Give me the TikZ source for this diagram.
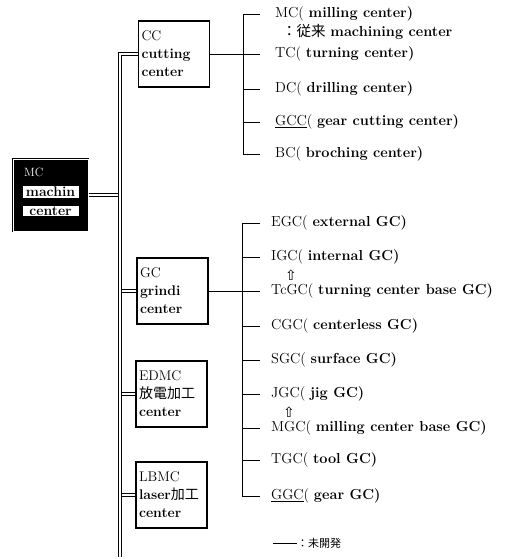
\documentclass[tikz,border=0pt]{standalone}
\usepackage{fontspec}
\newfontfamily\jpfont{Noto Sans CJK JP}
\newfontfamily\arrfont{DejaVu Sans}
\usetikzlibrary{positioning,calc}
\tikzset{
  ctrbox/.style={draw=black, line width=1.1pt, minimum width=71pt, minimum height=66pt,
    text width=65pt, align=left, inner sep=2pt, font=\fontsize{14}{18}\selectfont},
  mcbox/.style={draw=black, fill=black, line width=1pt, double=white, double distance=0.8pt,
    minimum width=75pt, minimum height=72pt},
  mclab/.style={fill=white, text=black, font=\bfseries\fontsize{14}{14}\selectfont,
    minimum width=56pt, inner sep=1pt},
  trunk/.style={draw=black, double=white, double distance=2pt, line width=0.9pt},
  link/.style={black, line width=0.9pt},
  item/.style={anchor=west, inner sep=0pt, font=\fontsize{14.5}{15}\selectfont},
  uparr/.style={inner sep=0pt, font=\arrfont\fontsize{14}{14}\selectfont},
}
\begin{document}
\begin{tikzpicture}[x=1pt,y=-1pt]
  \useasboundingbox (0,0) rectangle (522,559);
  % machining center block (left)
  \node[mcbox] (mc) at (50.5,195) {};
  \node[text=white, inner sep=0pt, anchor=west, font=\fontsize{12}{13}\selectfont] (mcab) at (24,172) {MC};
  \node[mclab] (mcw1) at (50.5,192) {machin};
  \node[mclab] (mcw2) at (50.5,211) {center};

  % center boxes on the trunk
  \coordinate (tbot) at (120,557);
  \node[ctrbox] (cc) at (174,54) {CC\\\textbf{cutting}\\\textbf{center}};
  \node[ctrbox] (gc) at (172.5,291) {GC\\\textbf{grindi}\\\textbf{center}};
  \node[ctrbox] (ed) at (171.5,394) {EDMC\\{\jpfont 放電加工}\\\textbf{center}};
  \node[ctrbox] (lb) at (171.5,495) {LBMC\\\textbf{laser}{\jpfont 加工}\\\textbf{center}};

  \draw[trunk] (cc.west) -| (tbot);
  \draw[trunk, shorten >=1.9pt] (mc.east) -- (mc.east -| tbot);
  \foreach \b in {gc,ed,lb}{\draw[trunk, shorten >=1.9pt] (\b.west) -- (\b.west -| tbot);}

  % cutting center family
  \coordinate (cbr) at (243,0);
  \coordinate (tend) at (260,0);
  \foreach \i/\yy/\ab/\lab in {0/14/MC(/milling center, 1/54/TC(/turning center,
      2/89/DC(/drilling center, 3/122/\underline{GCC}(/gear cutting center,
      4/154/BC(/broching center}{
    \node[item] (c\i) at (275,\yy) {\ab\ \textbf{\lab)}};
  }
  \node[item] (c0b) at (282,32) {{\jpfont ：従来} \textbf{machining center}};
  \draw[link] (c0.west -| tend) -| (c4.west -| cbr) -- (c4.west -| tend);
  \foreach \i in {1,2,3}{\draw[link] (c\i.west -| cbr) -- (c\i.west -| tend);}
  \draw[link] (cc.east) -- (c1.west -| tend);

  % grinding center family
  \coordinate (gbr) at (242,0);
  \foreach \i/\yy/\ab/\lab in {0/223/EGC(/external GC, 1/257/IGC(/internal GC,
      2/291/TcGC(/turning center base GC, 3/326/CGC(/centerless GC,
      4/360/SGC(/surface GC, 5/394/JGC(/jig GC, 6/428/MGC(/milling center base GC,
      7/460/TGC(/tool GC, 8/496/\underline{GGC}(/gear GC}{
    \node[item] (g\i) at (271,\yy) {\ab\ \textbf{\lab)}};
  }
  \node[uparr] (up0) at (291,275) {⇧};
  \node[uparr] (up1) at (289,412) {⇧};
  \draw[link] (g0.west -| tend) -| (g8.west -| gbr) -- (g8.west -| tend);
  \foreach \i in {1,...,7}{\draw[link] (g\i.west -| gbr) -- (g\i.west -| tend);}
  \draw[link] (gc.east) -- (g2.west -| tend);

  % legend
  \coordinate (legl) at (273,543);
  \node[item, font=\jpfont\fontsize{11}{12}\selectfont] (leg) at (297,543) {：未開発};
  \draw[link] (legl) -- (leg.west);
\end{tikzpicture}
\end{document}
